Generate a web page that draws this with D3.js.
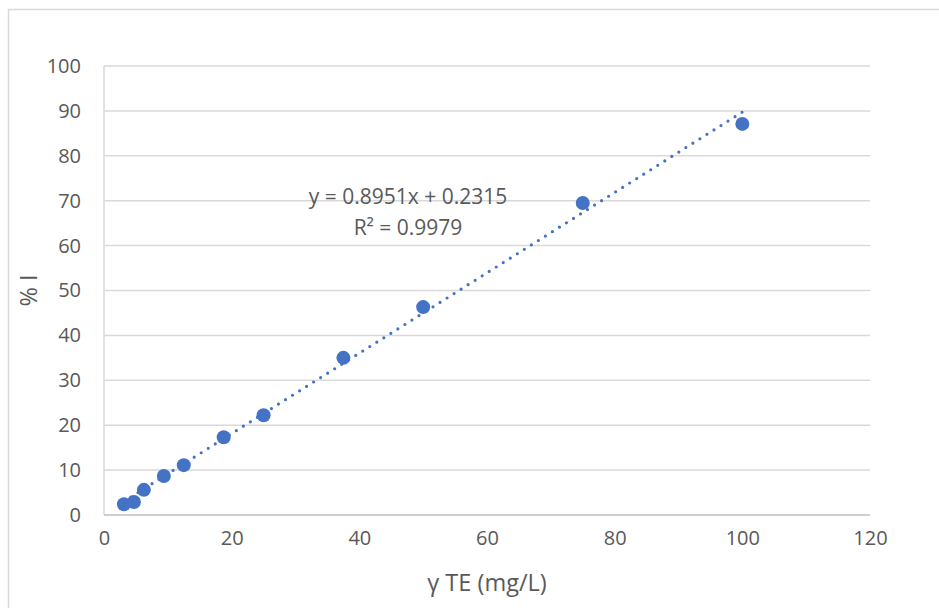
<!DOCTYPE html>
<html>
<head>
<meta charset="utf-8">
<script src="https://cdn.jsdelivr.net/npm/d3@7"></script>
<style>
  html, body { margin: 0; padding: 0; background: #fff; }
  svg { display: block; }
  text { font-family: "Open Sans", "Noto Sans", sans-serif; fill: #595959; }
</style>
</head>
<body>
<script>
// Data
const xValues = [3.125, 4.6875, 6.25, 9.375, 12.5, 18.75, 25, 37.5, 50, 75, 100];
const yValues = [2.4, 2.9, 5.6, 8.7, 11.1, 17.3, 22.2, 35.0, 46.3, 69.5, 87.1];
const slope = 0.8951;
const intercept = 0.2315;
const xTicks = [0, 20, 40, 60, 80, 100, 120];
const yTicks = [0, 10, 20, 30, 40, 50, 60, 70, 80, 90, 100];
const equationLines = ["y = 0.8951x + 0.2315", "R² = 0.9979"];
const xTitle = "γ TE (mg/L)";
const yTitle = "% I";

const W = 939, H = 608;
const plot = { left: 104, top: 66, right: 870, bottom: 515 };

const svg = d3.select("body").append("svg").attr("width", W).attr("height", H);

// Outer chart border
svg.append("rect")
  .attr("x", 8.5).attr("y", 9.5)
  .attr("width", W + 10).attr("height", H + 10)
  .attr("fill", "none").attr("stroke", "#d9d9d9").attr("stroke-width", 1.5);

const x = d3.scaleLinear().domain([0, 120]).range([plot.left, plot.right]);
const y = d3.scaleLinear().domain([0, 100]).range([plot.bottom, plot.top]);

// Horizontal gridlines
svg.append("g")
  .selectAll("line")
  .data(yTicks.filter(d => d > 0))
  .join("line")
  .attr("x1", plot.left).attr("x2", plot.right)
  .attr("y1", d => y(d)).attr("y2", d => y(d))
  .attr("stroke", "#d9d9d9").attr("stroke-width", 1.5);

// Y axis line (left)
svg.append("line")
  .attr("x1", plot.left).attr("x2", plot.left)
  .attr("y1", plot.top).attr("y2", plot.bottom)
  .attr("stroke", "#d9d9d9").attr("stroke-width", 1.5);

// X axis line
svg.append("line")
  .attr("x1", plot.left).attr("x2", plot.right)
  .attr("y1", plot.bottom).attr("y2", plot.bottom)
  .attr("stroke", "#bfbfbf").attr("stroke-width", 1.5);

// Y tick labels
const yAxis = d3.axisLeft(y).tickValues(yTicks).tickSize(0).tickPadding(23);
const gy = svg.append("g").attr("transform", `translate(${plot.left},0)`).call(yAxis);
gy.select(".domain").remove();
gy.selectAll("text").style("font-size", "20px").attr("fill", "#595959")
  .style("font-family", '"Open Sans", "Noto Sans", sans-serif');

// X tick labels
const xAxis = d3.axisBottom(x).tickValues(xTicks).tickSize(0).tickPadding(16);
const gx = svg.append("g").attr("transform", `translate(0,${plot.bottom})`).call(xAxis);
gx.select(".domain").remove();
gx.selectAll("text").style("font-size", "20px").attr("fill", "#595959")
  .style("font-family", '"Open Sans", "Noto Sans", sans-serif');

// Trendline (linear)
const xMin = d3.min(xValues), xMax = d3.max(xValues);
svg.append("line")
  .attr("x1", x(xMin)).attr("y1", y(slope * xMin + intercept))
  .attr("x2", x(xMax)).attr("y2", y(slope * xMax + intercept))
  .attr("stroke", "#4472C4").attr("stroke-width", 3.2)
  .attr("stroke-linecap", "round")
  .attr("stroke-dasharray", "0,8.3");

// Markers
svg.append("g")
  .selectAll("circle")
  .data(xValues.map((d, i) => [d, yValues[i]]))
  .join("circle")
  .attr("cx", d => x(d[0])).attr("cy", d => y(d[1]))
  .attr("r", 7)
  .attr("fill", "#4472C4");

// Equation label
svg.append("g")
  .selectAll("text")
  .data(equationLines)
  .join("text")
  .attr("x", 408)
  .attr("y", (d, i) => 204 + i * 31)
  .attr("text-anchor", "middle")
  .style("font-size", "21px")
  .text(d => d);

// Axis titles
svg.append("text")
  .attr("x", (plot.left + plot.right) / 2)
  .attr("y", 591)
  .attr("text-anchor", "middle")
  .style("font-size", "23.5px")
  .text(xTitle);

svg.append("text")
  .attr("transform", `translate(37,${(plot.top + plot.bottom) / 2}) rotate(-90)`)
  .attr("text-anchor", "middle")
  .style("font-size", "23.5px")
  .text(yTitle);
</script>
</body>
</html>
